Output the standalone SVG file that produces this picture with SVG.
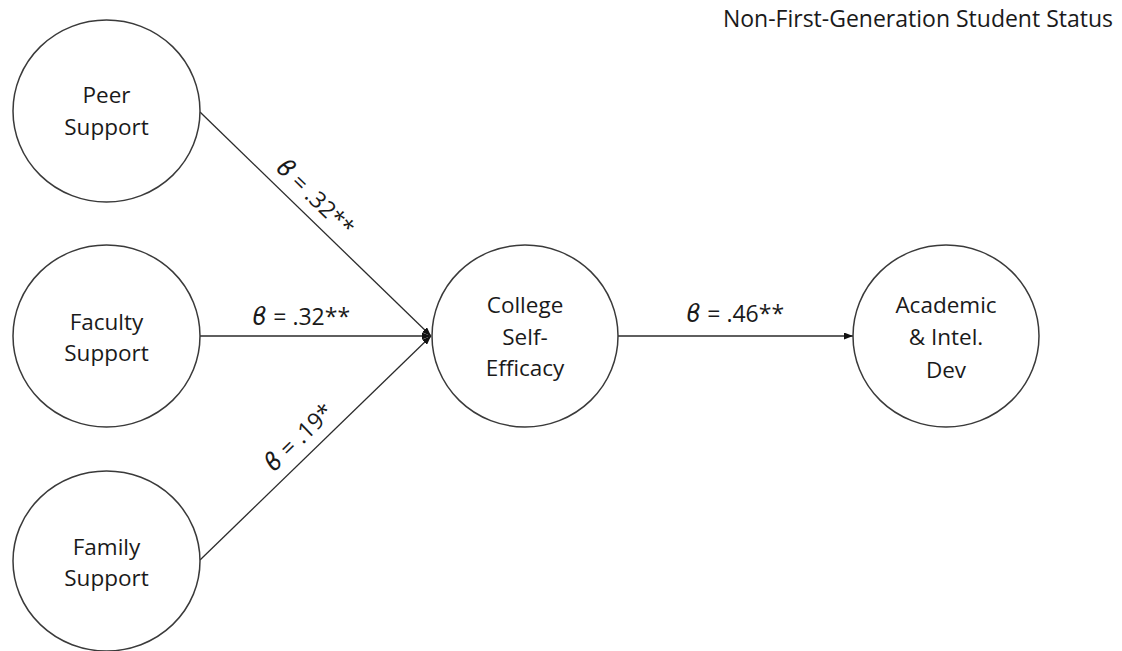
<svg xmlns="http://www.w3.org/2000/svg" width="1122" height="651" viewBox="0 0 1122 651">
  <style>
    .node { fill: #ffffff; stroke: #3a3a3a; stroke-width: 1.5; }
    .lbl { font-family: "Open Sans", "Liberation Sans", sans-serif; font-size: 22.5px; fill: #1a1a1a; text-anchor: middle; }
    .coef { font-family: "Open Sans", "DejaVu Sans", sans-serif; font-size: 23px; fill: #1a1a1a; text-anchor: middle; }
    .beta { font-family: "DejaVu Sans", sans-serif; font-style: italic; font-size: 25px; }
    .title { font-family: "Open Sans", "Liberation Sans", sans-serif; font-size: 23px; fill: #1a1a1a; text-anchor: end; }
    .edge { fill: none; stroke: #2a2a2a; stroke-width: 1.3; marker-end: url(#head); }
  </style>
  <defs>
    <marker id="head" markerUnits="userSpaceOnUse" markerWidth="9" markerHeight="7" refX="9" refY="3.5" orient="auto">
      <path d="M0,0 L9,3.5 L0,7 Z" fill="#111111"/>
    </marker>
  </defs>
  <rect width="1122" height="651" fill="#ffffff"/>

  <text class="title" x="1113" y="27">Non-First-Generation Student Status</text>

  <!-- paths between constructs -->
  <g id="connectors">
    <line class="edge" x1="200" y1="112" x2="431" y2="336"/>
    <line class="edge" x1="200" y1="336" x2="431" y2="336"/>
    <line class="edge" x1="200" y1="560" x2="431" y2="336"/>
    <line class="edge" x1="618" y1="336" x2="853" y2="336"/>
    <text class="coef" transform="translate(302,211) rotate(44.24)" x="0" y="-11"><tspan class="beta">ϐ</tspan> = .32**</text>
    <text class="coef" x="301" y="325"><tspan class="beta">ϐ</tspan> = .32**</text>
    <text class="coef" transform="translate(312,451) rotate(-44.24)" x="0" y="-11"><tspan class="beta">ϐ</tspan> = .19*</text>
    <text class="coef" x="735" y="322"><tspan class="beta">ϐ</tspan> = .46**</text>
  </g>

  <g id="peer-support">
    <ellipse class="node" cx="106.5" cy="111" rx="93.5" ry="91"/>
    <text class="lbl" x="106.5" y="103">Peer</text>
    <text class="lbl" x="106.5" y="135">Support</text>
  </g>

  <g id="faculty-support">
    <ellipse class="node" cx="106.5" cy="336" rx="93.5" ry="91"/>
    <text class="lbl" x="106.5" y="330">Faculty</text>
    <text class="lbl" x="106.5" y="361">Support</text>
  </g>

  <g id="family-support">
    <ellipse class="node" cx="106.5" cy="561" rx="93.5" ry="90"/>
    <text class="lbl" x="106.5" y="555">Family</text>
    <text class="lbl" x="106.5" y="586">Support</text>
  </g>

  <g id="college-self-efficacy">
    <ellipse class="node" cx="525" cy="336" rx="93" ry="91"/>
    <text class="lbl" x="525" y="313">College</text>
    <text class="lbl" x="525" y="345">Self-</text>
    <text class="lbl" x="525" y="376">Efficacy</text>
  </g>

  <g id="academic-intel-dev">
    <ellipse class="node" cx="946" cy="336" rx="93" ry="91"/>
    <text class="lbl" x="946" y="313">Academic</text>
    <text class="lbl" x="946" y="345">&amp; Intel.</text>
    <text class="lbl" x="946" y="378">Dev</text>
  </g>
</svg>
